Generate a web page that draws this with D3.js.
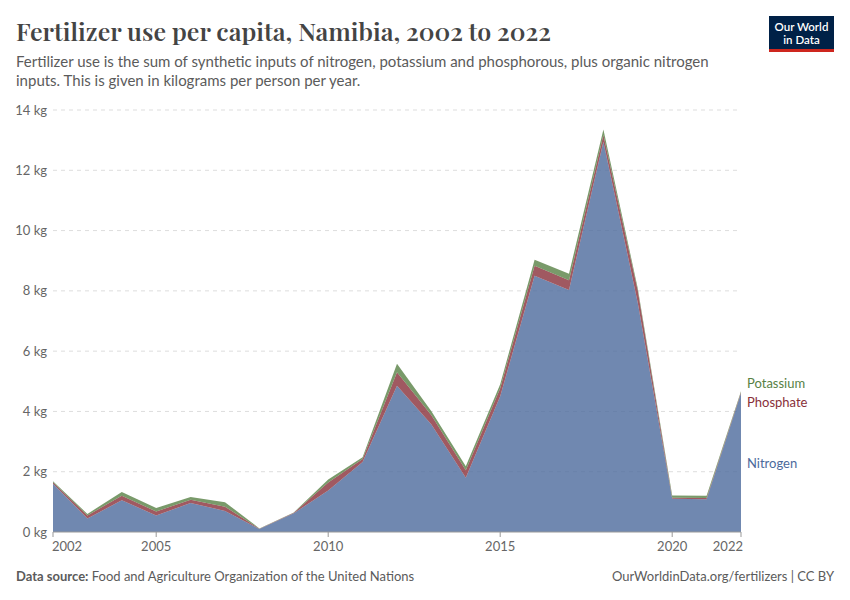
<!DOCTYPE html>
<html>
<head>
<meta charset="utf-8">
<script src="https://cdn.jsdelivr.net/npm/d3@7"></script>
<style>
  body { margin: 0; background: #fff; }
  text { font-family: Lato, "Noto Sans", sans-serif; }
</style>
</head>
<body>
<div id="chart"></div>
<script>
// Values, kg per person per year
const years = [2002, 2003, 2004, 2005, 2006, 2007, 2008, 2009, 2010, 2011, 2012,
               2013, 2014, 2015, 2016, 2017, 2018, 2019, 2020, 2021, 2022]
const nitrogen  = [1.60, 0.45, 1.05, 0.55, 0.96, 0.70, 0.10, 0.62, 1.38, 2.32, 4.85,
                   3.57, 1.80, 4.50, 8.50, 8.03, 12.95, 7.60, 1.10, 1.09, 4.60]
const phosphate = [0.05, 0.10, 0.15, 0.13, 0.11, 0.14, 0.01, 0.02, 0.26, 0.10, 0.45,
                   0.30, 0.25, 0.27, 0.33, 0.32, 0.22, 0.40, 0.04, 0.04, 0.04]
const potassium = [0.03, 0.05, 0.13, 0.12, 0.09, 0.15, 0.01, 0.01, 0.10, 0.06, 0.28,
                   0.14, 0.13, 0.13, 0.20, 0.22, 0.18, 0.08, 0.07, 0.07, 0.03]
const seriesNames = ['Nitrogen', 'Phosphate', 'Potassium']
const seriesColors = ['#4c6a9c', '#883039', '#578145']
const yTicks = [0, 2, 4, 6, 8, 10, 12, 14]
const xTicks = [2002, 2005, 2010, 2015, 2020, 2022]

const W = 850, H = 600
const margin = { left: 53, right: 109, top: 110, bottom: 68 }

const svg = d3.select('#chart').append('svg')
    .attr('width', W)
    .attr('height', H)

const x = d3.scaleLinear()
    .domain([2002, 2022])
    .range([margin.left, W - margin.right])
const y = d3.scaleLinear()
    .domain([0, 14])
    .range([H - margin.bottom, margin.top])

// header
svg.append('text')
    .attr('x', 16).attr('y', 41)
    .style('font-family', '"Playfair Display", "Liberation Serif", "DejaVu Serif", serif')
    .style('font-size', '25px')
    .style('font-weight', 600)
    .style('fill', '#444')
    .text('Fertilizer use per capita, Namibia, 2002 to 2022')

const sub = ['Fertilizer use is the sum of synthetic inputs of nitrogen, potassium and phosphorous, plus organic nitrogen',
             'inputs. This is given in kilograms per person per year.']
sub.forEach((s, i) => {
    svg.append('text')
        .attr('x', 16).attr('y', 67 + i * 19)
        .style('font-size', '15px')
        .style('fill', '#5b5b5b')
        .text(s)
})

// logo
const logo = svg.append('g').attr('transform', 'translate(769,16)')
logo.append('rect').attr('width', 65).attr('height', 36).attr('fill', '#002147')
logo.append('rect').attr('y', 33).attr('width', 65).attr('height', 3).attr('fill', '#ce261e')
logo.append('text').attr('x', 32.5).attr('y', 15).attr('text-anchor', 'middle')
    .style('font-size', '11.5px').style('font-weight', 600).style('fill', '#fff').text('Our World')
logo.append('text').attr('x', 32.5).attr('y', 28).attr('text-anchor', 'middle')
    .style('font-size', '11.5px').style('font-weight', 600).style('fill', '#fff').text('in Data')

// grid + y labels
yTicks.forEach(t => {
    if (t > 0) {
        svg.append('line')
            .attr('x1', margin.left).attr('x2', W - margin.right)
            .attr('y1', y(t)).attr('y2', y(t))
            .attr('stroke', '#dddddd')
            .attr('stroke-dasharray', '4,4')
    }
    svg.append('text')
        .attr('x', 47).attr('y', y(t) + 4.5)
        .attr('text-anchor', 'end')
        .style('font-size', '13px')
        .style('fill', '#666')
        .text(t + ' kg')
})

// stacked areas
const rows = years.map((yr, i) => ({
    year: yr, Nitrogen: nitrogen[i], Phosphate: phosphate[i], Potassium: potassium[i]
}))
const stacked = d3.stack().keys(seriesNames)(rows)

const area = d3.area()
    .x(d => x(d.data.year))
    .y0(d => y(d[0]))
    .y1(d => y(d[1]))

svg.selectAll('.layer')
    .data(stacked)
    .enter()
    .append('path')
    .attr('class', 'layer')
    .attr('d', area)
    .attr('fill', (d, i) => seriesColors[i])
    .attr('fill-opacity', 0.8)

// x axis
svg.append('line')
    .attr('x1', margin.left).attr('x2', W - margin.right)
    .attr('y1', y(0)).attr('y2', y(0))
    .attr('stroke', '#999')
xTicks.forEach(t => {
    svg.append('line')
        .attr('x1', x(t)).attr('x2', x(t))
        .attr('y1', y(0)).attr('y2', y(0) + 5)
        .attr('stroke', '#999')
    svg.append('text')
        .attr('x', x(t)).attr('y', y(0) + 19)
        .attr('text-anchor', t === 2002 ? 'start' : (t === 2022 ? 'end' : 'middle'))
        .attr('dx', t === 2002 ? -1 : (t === 2022 ? 2 : 0))
        .style('font-size', '13px')
        .style('fill', '#666')
        .text(t)
})

// series labels at the right end
const labelY = { Potassium: 388, Phosphate: 407, Nitrogen: 468 }
seriesNames.forEach((name, i) => {
    svg.append('text')
        .attr('x', W - margin.right + 6).attr('y', labelY[name])
        .style('font-size', '13px')
        .style('fill', seriesColors[i])
        .text(name)
})

// footer
const foot = svg.append('text')
    .attr('x', 16).attr('y', 581)
    .style('font-size', '13px')
    .style('fill', '#5b5b5b')
foot.append('tspan').style('font-weight', 700).text('Data source:')
foot.append('tspan').text(' Food and Agriculture Organization of the United Nations')

svg.append('text')
    .attr('x', 834).attr('y', 581)
    .attr('text-anchor', 'end')
    .style('font-size', '13px')
    .style('fill', '#5b5b5b')
    .text('OurWorldinData.org/fertilizers | CC BY')
</script>
</body>
</html>
